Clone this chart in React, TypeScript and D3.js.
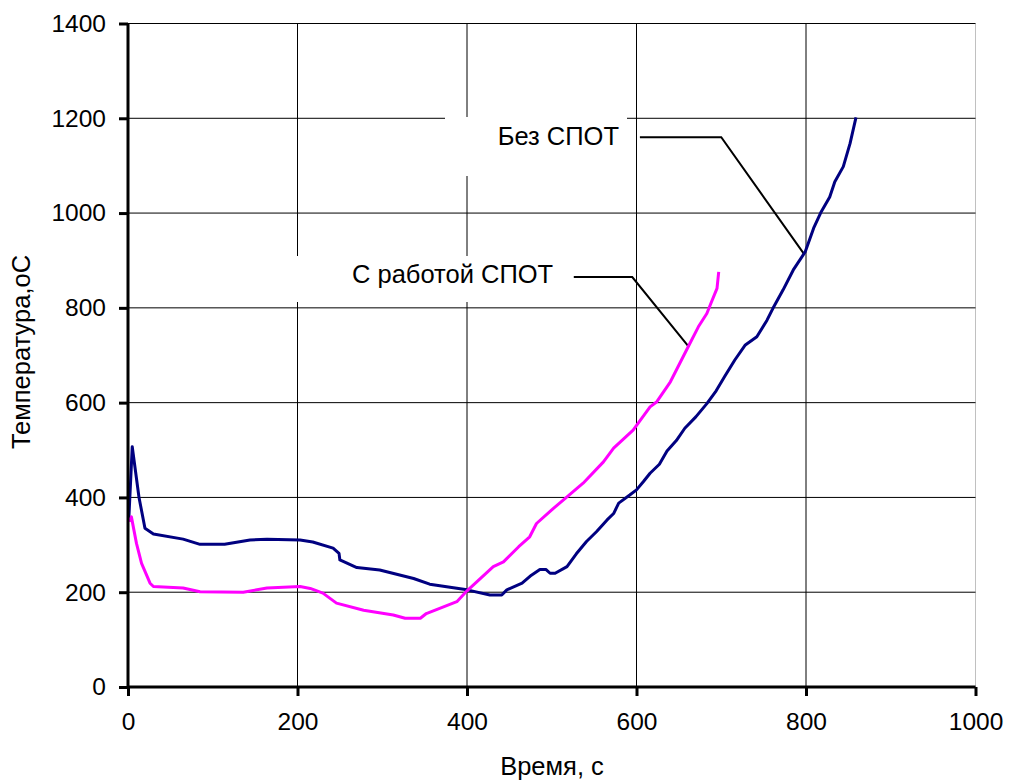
import * as d3 from 'd3';
import { useEffect, useRef } from 'react';

// Без СПОТ (time, s / temperature, oC)
const noSpotTime = [1, 5, 13, 20, 30, 65, 85, 114, 144, 164, 203, 218, 242, 249, 250, 270, 297, 337, 356, 400, 427, 441, 447, 465, 476, 486, 493, 498, 504, 518, 529, 541, 553, 565, 573, 579, 592, 600, 608, 616, 627, 636, 647, 657, 670, 683, 694, 704, 716, 728, 742, 754, 761, 773, 785, 799, 809, 818, 828, 834, 844, 852, 859];
const noSpotTemp = [356, 507, 400, 335, 323, 312, 301, 301, 310, 312, 310, 306, 293, 282, 268, 252, 247, 229, 217, 205, 194, 194, 205, 219, 236, 248, 248, 240, 240, 254, 281, 307, 328, 352, 366, 388, 405, 416, 433, 451, 470, 498, 520, 546, 570, 598, 625, 655, 690, 721, 739, 774, 799, 838, 880, 918, 968, 1003, 1034, 1066, 1098, 1147, 1202];

// С работой СПОТ
const spotTime = [1, 4, 10, 16, 26, 30, 65, 85, 136, 164, 203, 215, 230, 246, 278, 313, 327, 345, 352, 388, 400, 431, 443, 461, 474, 482, 502, 518, 537, 561, 573, 596, 616, 624, 640, 661, 673, 683, 687, 695, 697];
const spotTemp = [349, 359, 303, 261, 219, 212, 209, 201, 200, 209, 212, 208, 198, 177, 162, 152, 145, 145, 155, 180, 203, 254, 264, 296, 317, 345, 377, 401, 430, 475, 504, 542, 591, 602, 644, 718, 760, 788, 806, 841, 876];

const xTicks = [0, 200, 400, 600, 800, 1000];
const yTicks = [0, 200, 400, 600, 800, 1000, 1200, 1400];

const font = '"Liberation Sans", Arial, sans-serif';

export default function App() {
  const svgRef = useRef<SVGSVGElement>(null);

  useEffect(() => {
    document.body.style.margin = '0';
    const width = 1009;
    const height = 783;
    const m = { left: 128, right: 33.5, top: 23.5, bottom: 96 };

    const svg = d3.select(svgRef.current);
    svg.selectAll('*').remove();

    const x = d3.scaleLinear().domain([0, 1000]).range([m.left, width - m.right]);
    const y = d3.scaleLinear().domain([0, 1400]).range([height - m.bottom, m.top]);

    // grid
    const grid = svg.append('g');
    grid.selectAll('line.v')
      .data(xTicks.slice(1))
      .join('line')
      .attr('x1', (d) => x(d)).attr('x2', (d) => x(d))
      .attr('y1', y(0)).attr('y2', y(1400))
      .attr('stroke', (d) => (d === 1000 ? '#c0c0c0' : '#000'))
      .attr('stroke-width', 1);
    grid.selectAll('line.h')
      .data(yTicks.slice(1))
      .join('line')
      .attr('x1', x(0)).attr('x2', x(1000))
      .attr('y1', (d) => y(d)).attr('y2', (d) => y(d))
      .attr('stroke', '#000')
      .attr('stroke-width', 1);

    // label boxes hiding grid
    svg.append('rect').attr('x', 445).attr('y', 117).attr('width', 182).attr('height', 59).attr('fill', '#fff');
    svg.append('rect').attr('x', 265).attr('y', 256).attr('width', 305).attr('height', 46).attr('fill', '#fff');

    // leader lines
    svg.append('path')
      .attr('d', `M${x(604)},${y(1160)}H${x(700)}L${x(798)},${y(913)}`)
      .attr('fill', 'none').attr('stroke', '#000').attr('stroke-width', 2);
    svg.append('path')
      .attr('d', `M${x(526)},${y(865)}H${x(595)}L${x(662)},${y(717)}`)
      .attr('fill', 'none').attr('stroke', '#000').attr('stroke-width', 2);

    // series
    const line = d3.line<[number, number]>().x((d) => x(d[0])).y((d) => y(d[1]));
    svg.append('path')
      .datum(noSpotTime.map((t, i) => [t, noSpotTemp[i]] as [number, number]))
      .attr('fill', 'none').attr('stroke', '#000080').attr('stroke-width', 3)
      .attr('stroke-linejoin', 'round')
      .attr('d', line);
    svg.append('path')
      .datum(spotTime.map((t, i) => [t, spotTemp[i]] as [number, number]))
      .attr('fill', 'none').attr('stroke', '#ff00ff').attr('stroke-width', 3)
      .attr('stroke-linejoin', 'round')
      .attr('d', line);

    // axes
    const fmt = d3.format('d');
    const xAxis = svg.append('g')
      .attr('transform', `translate(0,${y(0)})`)
      .call(d3.axisBottom(x).tickValues(xTicks).tickFormat(fmt).tickSize(9).tickPadding(17));
    const yAxis = svg.append('g')
      .attr('transform', `translate(${x(0)},0)`)
      .call(d3.axisLeft(y).tickValues(yTicks).tickFormat(fmt).tickSize(9).tickPadding(13));
    [xAxis, yAxis].forEach((g) => {
      g.attr('font-size', null).attr('font-family', null);
      g.select('.domain').attr('stroke', '#000').attr('stroke-width', 3);
      g.selectAll('.tick line').attr('stroke', '#000').attr('stroke-width', 3);
      g.selectAll('.tick text').attr('fill', '#000').style('font-family', font).style('font-size', '24.5px');
    });
    xAxis.select('.domain').attr('d', `M${x(0)},0H${x(1000)}`);
    yAxis.select('.domain').attr('d', `M0,${y(0)}V${y(1400)}`);

    // labels
    svg.append('text')
      .attr('x', 619).attr('y', 145)
      .attr('text-anchor', 'end')
      .style('font-family', font).style('font-size', '25.5px')
      .text('Без СПОТ');
    svg.append('text')
      .attr('x', 352).attr('y', 283)
      .style('font-family', font).style('font-size', '25.5px')
      .text('С работой СПОТ');

    svg.append('text')
      .attr('x', 552).attr('y', 775)
      .attr('text-anchor', 'middle')
      .style('font-family', font).style('font-size', '25.5px')
      .text('Время, с');
    svg.append('text')
      .attr('transform', 'translate(30,352) rotate(-90)')
      .attr('text-anchor', 'middle')
      .style('font-family', font).style('font-size', '25.5px')
      .text('Температура,оС');
  }, []);

  return (
    <svg ref={svgRef} width={1009} height={783} style={{ display: 'block', background: '#fff' }} />
  );
}
